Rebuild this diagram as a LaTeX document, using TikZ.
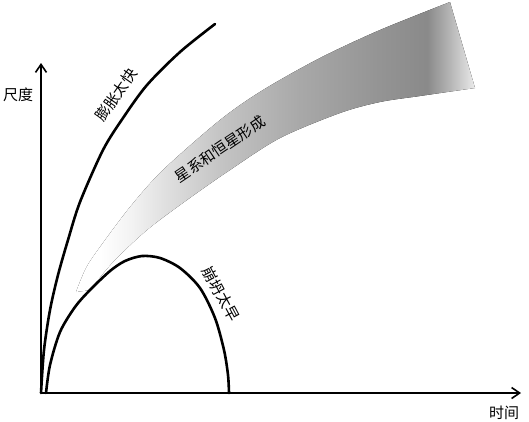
\documentclass[tikz,border=0pt]{standalone}
\usepackage{fontspec}
\usepackage{tikz}
\usetikzlibrary{arrows.meta}
\newfontfamily\cjk{Noto Sans CJK SC}
% band: light at the young end, darkest late, fading at the far edge
\pgfdeclarehorizontalshading{bandshade}{100bp}{color(0bp)=(white); color(28bp)=(white);
  color(32bp)=(black!5); color(36bp)=(black!12); color(43bp)=(black!23);
  color(53bp)=(black!34); color(63bp)=(black!42); color(69bp)=(black!46);
  color(72bp)=(black!28); color(75bp)=(black!8); color(100bp)=(black!8)}

\begin{document}
\begin{tikzpicture}[x=1pt,y=-1pt,
      axis/.style={line width=1.6pt,-{Straight Barb[length=8pt,width=11pt]}},
      curve/.style={line width=2.6pt,line cap=round},
      lbl/.style={font=\cjk\fontsize{15}{15}\selectfont,inner sep=1pt}]
      \useasboundingbox (0,0) rectangle (529,421);
      \coordinate (O) at (41,393);
      \coordinate (ytip) at (41,63);
      \coordinate (xtip) at (521,393);
      % galaxy band
      \fill[shading=bandshade,shading angle=0]
        plot[smooth] coordinates {(76,292) (86,268) (100,247) (130,207) (163,170) (220,120) (263,90) (320,58) (380,30) (450,2)}
        -- plot[smooth] coordinates {(475,88) (420,96) (380,102) (340,113) (280,138) (230,170) (187,200) (147,230) (113,262) (90,290)}
        -- cycle;
      % expanding too fast
      \draw[curve] plot[smooth] coordinates {(41,393) (44,350) (50,310) (58,275) (68,240) (80,202) (103,150) (123,118) (147,85) (180,52) (215,24)};
      % collapsing too early
      \draw[curve] plot[smooth] coordinates {(46,393) (50,365) (60,332) (75,307) (90,290) (110,271) (125,261) (142,256) (160,258) (180,268) (200,288) (215,318) (224,350) (228,375) (229,393)};
      \draw[axis] (O) -- (ytip);
      \draw[axis] (O) -- (xtip);
      \node[lbl] (ylab) at (18,95) {尺度};
      \node[lbl] (xlab) at (504,413) {时间};
      \node[lbl,rotate=55] (fast) at (116,95) {膨胀太快};
      \node[lbl,rotate=34] (form) at (220,149) {星系和恒星形成};
      \node[lbl,rotate=-62] (early) at (221,294) {崩坍太早};
    \end{tikzpicture}
\end{document}
